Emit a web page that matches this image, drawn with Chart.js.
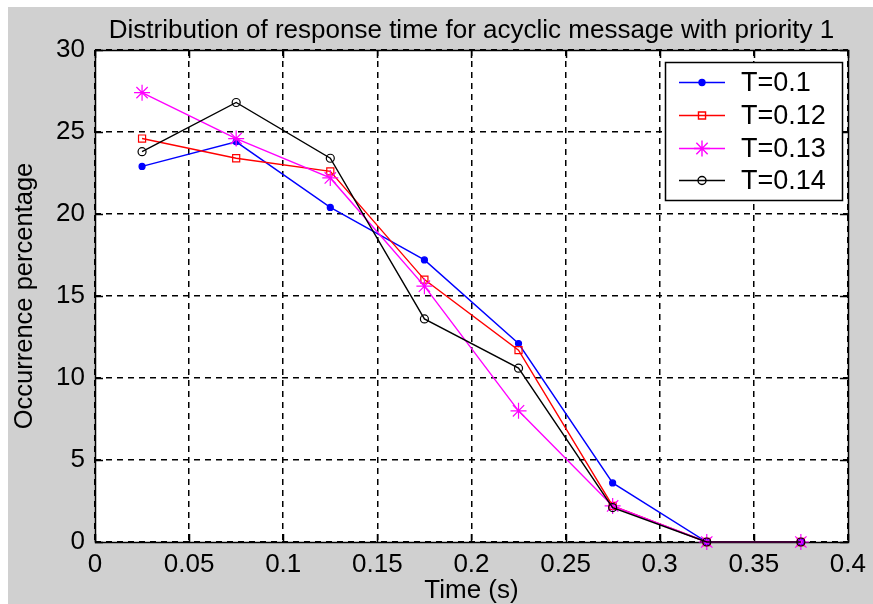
<!DOCTYPE html>
<html>
<head>
<meta charset="utf-8">
<title>Response time distribution</title>
<script src="https://cdn.jsdelivr.net/npm/chart.js@4.4.1/dist/chart.umd.min.js"></script>
<style>
  html, body { margin: 0; padding: 0; background: #fff; }
  #wrap { width: 873px; height: 604px; }
</style>
</head>
<body>
<div id="wrap"><canvas id="chart" width="873" height="604"></canvas></div>
<script>
// bin centres of the response time histogram (s)
const timeBins = [0.025, 0.075, 0.125, 0.175, 0.225, 0.275, 0.325, 0.375];

// occurrence percentage per bin, one array per period T
const seriesNames = ['T=0.1', 'T=0.12', 'T=0.13', 'T=0.14'];
const occT010 = [22.9, 24.4, 20.4, 17.2, 12.1, 3.6, 0, 0];
const occT012 = [24.6, 23.4, 22.6, 16.0, 11.7, 2.2, 0, 0];
const occT013 = [27.4, 24.6, 22.2, 15.6, 8.0, 2.2, 0, 0];
const occT014 = [23.8, 26.8, 23.4, 13.6, 10.6, 2.1, 0, 0];

// axis ticks
const xTicks = [0, 0.05, 0.1, 0.15, 0.2, 0.25, 0.3, 0.35, 0.4];
const xTickLabels = ['0', '0.05', '0.1', '0.15', '0.2', '0.25', '0.3', '0.35', '0.4'];
const yTicks = [0, 5, 10, 15, 20, 25, 30];
const yTickLabels = ['0', '5', '10', '15', '20', '25', '30'];

const FONT = '"Liberation Sans", Arial, sans-serif';
const FIG_GRAY = '#d0d0d0';

function toPoints(values) {
    return timeBins.map((t, i) => ({ x: t, y: values[i] }));
}

// grey figure background with a white plot area
const figureBackground = {
    id: 'figureBackground',
    beforeDraw(chart) {
        const { ctx, chartArea } = chart;
        ctx.save();
        ctx.fillStyle = '#ffffff';
        ctx.fillRect(0, 0, chart.width, chart.height);
        ctx.fillStyle = FIG_GRAY;
        ctx.fillRect(8, 7, chart.width - 8, chart.height - 7);
        ctx.fillStyle = '#ffffff';
        ctx.fillRect(chartArea.left, chartArea.top,
            chartArea.right - chartArea.left, chartArea.bottom - chartArea.top);
        ctx.restore();
    }
};

// axes box with inward tick marks on all four sides
const axesBox = {
    id: 'axesBox',
    beforeDatasetsDraw(chart) {
        const { ctx, chartArea: a, scales } = chart;
        const len = 8;
        ctx.save();
        ctx.strokeStyle = '#000';
        ctx.lineWidth = 1.5;
        ctx.setLineDash([]);
        ctx.beginPath();
        xTicks.forEach(v => {
            const x = Math.round(scales.x.getPixelForValue(v)) + 0.5;
            ctx.moveTo(x, a.bottom); ctx.lineTo(x, a.bottom - len);
            ctx.moveTo(x, a.top); ctx.lineTo(x, a.top + len);
        });
        yTicks.forEach(v => {
            const y = Math.round(scales.y.getPixelForValue(v)) + 0.5;
            ctx.moveTo(a.left, y); ctx.lineTo(a.left + len, y);
            ctx.moveTo(a.right, y); ctx.lineTo(a.right - len, y);
        });
        ctx.stroke();
        ctx.strokeRect(Math.round(a.left) + 0.5, Math.round(a.top) + 0.5,
            Math.round(a.right - a.left), Math.round(a.bottom - a.top));
        ctx.restore();
    }
};

// boxed legend in the upper right, line sample with marker
const boxLegend = {
    id: 'boxLegend',
    afterDraw(chart) {
        const { ctx } = chart;
        const box = { x: 665, y: 62, w: 177, h: 138 };
        ctx.save();
        ctx.fillStyle = '#ffffff';
        ctx.fillRect(box.x, box.y, box.w, box.h);
        ctx.strokeStyle = '#000';
        ctx.lineWidth = 1.5;
        ctx.strokeRect(box.x + 0.5, box.y + 0.5, box.w, box.h);
        ctx.font = '27px ' + FONT;
        ctx.textBaseline = 'middle';
        ctx.textAlign = 'left';
        chart.data.datasets.forEach((ds, i) => {
            const y = Math.round(box.y + 20 + i * 32.8) + 0.5;
            ctx.strokeStyle = ds.borderColor;
            ctx.lineWidth = ds.borderWidth;
            ctx.beginPath();
            ctx.moveTo(679, y);
            ctx.lineTo(725, y);
            ctx.stroke();
            ctx.fillStyle = ds.pointBackgroundColor;
            ctx.strokeStyle = ds.pointBorderColor;
            Chart.helpers.drawPoint(ctx, {
                pointStyle: ds.pointStyle,
                radius: ds.pointRadius,
                rotation: 0,
                borderWidth: 1.2
            }, 702, y);
            ctx.fillStyle = '#000';
            ctx.fillText(ds.label, 741, y + 1);
        });
        ctx.restore();
    }
};

Chart.defaults.font.family = FONT;
Chart.defaults.color = '#000';

new Chart(document.getElementById('chart'), {
    type: 'line',
    data: {
        datasets: [
            {
                label: seriesNames[0],
                data: toPoints(occT010),
                borderColor: '#0000ff',
                borderWidth: 1.4,
                pointStyle: 'circle',
                pointRadius: 3,
                pointBackgroundColor: '#0000ff',
                pointBorderColor: '#0000ff',
                order: 4
            },
            {
                label: seriesNames[1],
                data: toPoints(occT012),
                borderColor: '#ff0000',
                borderWidth: 1.4,
                pointStyle: 'rect',
                pointRadius: 5,
                pointBackgroundColor: 'rgba(0,0,0,0)',
                pointBorderColor: '#ff0000',
                order: 3
            },
            {
                label: seriesNames[2],
                data: toPoints(occT013),
                borderColor: '#ff00ff',
                borderWidth: 1.4,
                pointStyle: 'star',
                pointRadius: 8,
                pointBackgroundColor: '#ff00ff',
                pointBorderColor: '#ff00ff',
                order: 2
            },
            {
                label: seriesNames[3],
                data: toPoints(occT014),
                borderColor: '#000000',
                borderWidth: 1.4,
                pointStyle: 'circle',
                pointRadius: 4,
                pointBackgroundColor: 'rgba(0,0,0,0)',
                pointBorderColor: '#000000',
                order: 1
            }
        ]
    },
    options: {
        responsive: false,
        animation: false,
        devicePixelRatio: 1,
        events: [],
        layout: { padding: { left: 0, right: 20, top: 0, bottom: 0 } },
        datasets: {
            line: { clip: false, tension: 0, pointBorderWidth: 1.2, fill: false }
        },
        plugins: {
            legend: { display: false },
            tooltip: { enabled: false },
            title: {
                display: true,
                fullSize: false,
                text: 'Distribution of response time for acyclic message with priority 1',
                font: { size: 26, weight: 'normal', lineHeight: 1.2 },
                padding: { top: 15, bottom: 3.8 },
                color: '#000'
            }
        },
        scales: {
            x: {
                type: 'linear',
                min: 0,
                max: 0.4,
                afterFit(scale) { scale.height = 62; },
                afterBuildTicks(scale) { scale.ticks = xTicks.map(v => ({ value: v })); },
                ticks: {
                    padding: 7,
                    maxRotation: 0,
                    autoSkip: false,
                    font: { size: 26 },
                    callback: (v, i) => xTickLabels[i]
                },
                grid: { color: '#000', lineWidth: 1.5, drawTicks: false },
                border: { display: false, dash: [6, 5] },
                title: {
                    display: true,
                    text: 'Time (s)',
                    font: { size: 26, lineHeight: 1 },
                    padding: { top: 0, bottom: 0 }
                }
            },
            y: {
                type: 'linear',
                min: 0,
                max: 30,
                afterFit(scale) { scale.width = 95; },
                afterBuildTicks(scale) { scale.ticks = yTicks.map(v => ({ value: v })); },
                ticks: {
                    padding: 10,
                    autoSkip: false,
                    font: { size: 26 },
                    callback: (v, i) => yTickLabels[i]
                },
                grid: { color: '#000', lineWidth: 1.5, drawTicks: false },
                border: { display: false, dash: [6, 5] },
                title: {
                    display: true,
                    text: 'Occurrence percentage',
                    font: { size: 25.5, lineHeight: 1.2 },
                    padding: { top: 10, bottom: 0 }
                }
            }
        }
    },
    plugins: [figureBackground, axesBox, boxLegend]
});
</script>
</body>
</html>
